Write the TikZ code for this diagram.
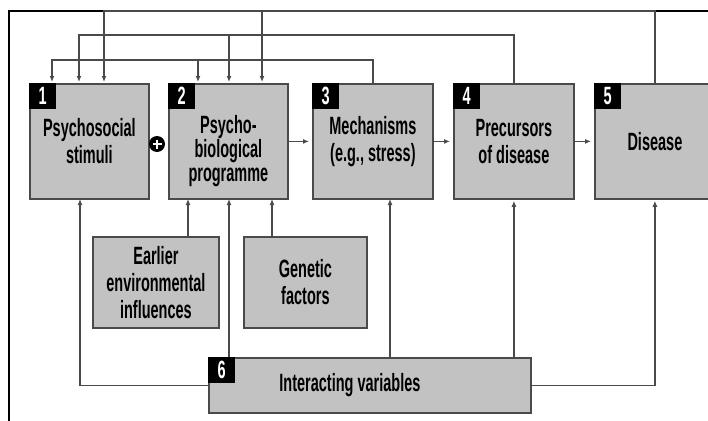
\documentclass[tikz,border=0pt]{standalone}
\usepackage{fontspec}
\setmainfont[FakeStretch=0.58]{Liberation Sans}
\usetikzlibrary{positioning,
				arrows.meta,
				calc}
\definecolor{boxgray}{HTML}{C2C2C2}
\definecolor{linegray}{HTML}{4A4A4A}
\tikzset{
  box/.style={draw=linegray,line width=1.8pt,fill=boxgray,anchor=north west,
    align=center,inner sep=0pt,font=\bfseries\fontsize{25}{27}\selectfont},
  numbox/.style={fill=black,text=white,anchor=north west,minimum width=27pt,
    minimum height=26pt,inner sep=0pt,font=\bfseries\fontsize{25}{25}\selectfont},
  wire/.style={draw=linegray,line width=1.8pt},
  arr/.style={wire,-{Latex[length=6pt,width=5pt]},shorten >=1pt}
}

\begin{document}
\begin{tikzpicture}[x=1pt,y=-1pt]
  \useasboundingbox (0,0) rectangle (708,420);
  \clip (0,0) rectangle (708,420);
  % frame
  \draw[black,line width=1.3pt] (9,430) -- (9,11) -- (720,11);
  % main chain
  \node[box,minimum width=119pt,minimum height=115pt] (one) at (29,83) {Psychosocial\\stimuli};
  \node[box,minimum width=119pt,minimum height=115pt,font=\bfseries\fontsize{25}{24}\selectfont] (two) at (168,83) {\rule{0pt}{38pt}Psycho-\\biological\\programme};
  \node[box,minimum width=120pt,minimum height=115pt] (three) at (312,83) {Mechanisms\\(e.g., stress)};
  \node[box,minimum width=120pt,minimum height=115pt] (four) at (453,83) {Precursors\\of disease};
  \node[box,minimum width=120pt,minimum height=115pt] (five) at (594,83) {Disease};
  \node[box,minimum width=126pt,minimum height=91pt] (early) at (92,236) {Earlier\\environmental\\influences};
  \node[box,minimum width=123pt,minimum height=91pt] (genes) at (243,236) {Genetic\\factors};
  \node[box,minimum width=322pt,minimum height=55pt] (six) at (208,357) {Interacting variables\hspace*{40pt}};
  % numbers
  \node[numbox] (n1) at (one.north west) {1};
  \node[numbox] (n2) at (two.north west) {2};
  \node[numbox] (n3) at (three.north west) {3};
  \node[numbox] (n4) at (four.north west) {4};
  \node[numbox] (n5) at (five.north west) {5};
  \node[numbox] (n6) at (six.north west) {6};
  % plus sign
  \node[circle,fill=black,minimum size=16pt,inner sep=0pt] (plus) at (157,144) {};
  \draw[white,line width=2.6pt] ($(plus.center)+(-4.5,0)$) -- ($(plus.center)+(4.5,0)$);
  \draw[white,line width=2.6pt] ($(plus.center)+(0,-4.5)$) -- ($(plus.center)+(0,4.5)$);
  % forward arrows
  \draw[arr,shorten >=3pt] (two.east) -- (three.west);
  \draw[arr,shorten >=3pt] (three.east) -- (four.west);
  \draw[arr,shorten >=3pt] (four.east) -- (five.west);
  % feedback lines on top
  \coordinate (topA) at (0,11);
  \coordinate (topB) at (0,35);
  \coordinate (topC) at (0,60);
  \coordinate (in1a) at (104,83);
  \coordinate (in1b) at (79,83);
  \coordinate (in1c) at (52,83);
  \coordinate (in2a) at (262,83);
  \coordinate (in2b) at (229,83);
  \coordinate (in2c) at (198,83);
  \draw[arr] (five.north) -- (five.north |- topA) -| (in1a);
  \draw[arr] (in2a |- topA) -- (in2a);
  \draw[arr] (four.north) -- (four.north |- topB) -| (in1b);
  \draw[arr] (in2b |- topB) -- (in2b);
  \draw[arr] (three.north) -- (three.north |- topC) -| (in1c);
  \draw[arr] (in2c |- topC) -- (in2c);
  % inputs from below
  \coordinate (in1d) at (80,198);
  \coordinate (in2d) at (188,198);
  \coordinate (in2e) at (229,198);
  \coordinate (in2f) at (272,198);
  \coordinate (in3) at (390,198);
  \draw[arr] (six.west) -| (in1d);
  \draw[arr] (early.north -| in2d) -- (in2d);
  \draw[arr] (six.north -| in2e) -- (in2e);
  \draw[arr] (genes.north -| in2f) -- (in2f);
  \draw[arr] (six.north -| in3) -- (in3);
  \draw[arr] (six.north -| four.south) -- (four.south);
  \draw[arr] (six.east) -| (five.south);
\end{tikzpicture}
\end{document}
